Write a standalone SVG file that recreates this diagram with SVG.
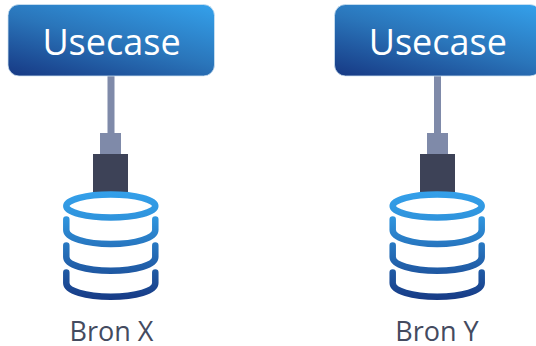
<svg xmlns="http://www.w3.org/2000/svg" width="536" height="346" viewBox="0 0 536 346">
<style>
.box{fill:url(#bg);stroke:#cfe3f3;stroke-width:.8}
.wire{fill:#7f8aa9}
.dark{fill:#3d4257}
.db{fill:none;stroke:url(#dg);stroke-width:6.5;stroke-linecap:round}
text{font-family:"Open Sans","Noto Sans",sans-serif;text-anchor:middle}
.t{font-size:36px;fill:#fff}
.l{font-size:27px;fill:#444b5f}
</style>
<defs>
<linearGradient id="bg" gradientUnits="objectBoundingBox" x1="0.1" y1="1.05" x2="0.9" y2="-0.05"><stop offset="0" stop-color="#173a85"/><stop offset=".5" stop-color="#2a75ba"/><stop offset="1" stop-color="#34a0ea"/></linearGradient>
<linearGradient id="dg" gradientUnits="userSpaceOnUse" x1="0" y1="192" x2="0" y2="300"><stop offset="0" stop-color="#34a0ea"/><stop offset=".25" stop-color="#2f93dc"/><stop offset="1" stop-color="#173a85"/></linearGradient>
<g id="cyl">
<ellipse class="db" cx="0" cy="206" rx="44.500" ry="11.500"/>
<path class="db" d="M-44.500 219.500V230C-44.500 238-25 244 0 244S44.500 238 44.500 230V219.500"/>
<path class="db" d="M-44.500 245.500V257C-44.500 265-25 270.700 0 270.700S44.500 265 44.500 257V245.500"/>
<path class="db" d="M-44.500 272.500V283C-44.500 291-25 296.700 0 296.700S44.500 291 44.500 283V272.500"/>
</g>
</defs>
<g id="connectors">
<rect class="wire" x="107.500" y="76" width="7" height="57"/>
<rect class="wire" x="434" y="76" width="7" height="57"/>
</g>
<g id="usecase-x">
<rect class="box" x="8" y="4.500" width="206.500" height="71.500" rx="11"/>
<text class="t" x="111.500" y="54.500">Usecase</text>
</g>
<g id="usecase-y">
<rect class="box" x="334.500" y="4.500" width="206.500" height="71.500" rx="11"/>
<text class="t" x="437.800" y="54.500">Usecase</text>
</g>
<g id="bron-x">
<rect class="wire" x="100" y="133" width="21" height="21"/>
<rect class="dark" x="93" y="154" width="35" height="38"/>
<use href="#cyl" x="110.800"/>
<text class="l" x="111.500" y="340.500">Bron X</text>
</g>
<g id="bron-y">
<rect class="wire" x="427" y="133" width="21" height="21"/>
<rect class="dark" x="420" y="154" width="35" height="38"/>
<use href="#cyl" x="437.200"/>
<text class="l" x="437" y="340.500">Bron Y</text>
</g>
</svg>
